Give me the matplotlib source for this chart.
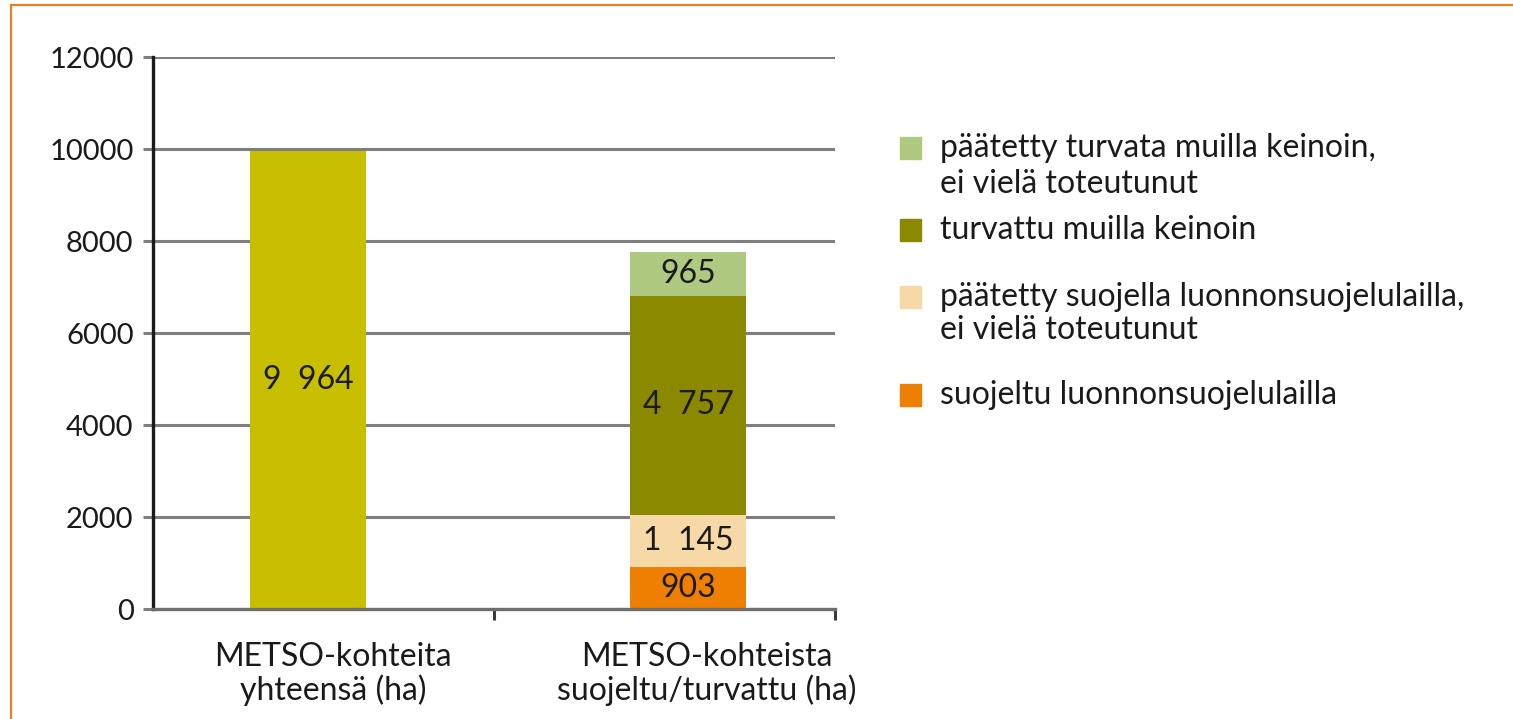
import matplotlib.pyplot as plt
from matplotlib.patches import Rectangle

W, H = 1513, 719
FONT = "Lato"
FS_TICK = 21
FS_TEXT = 23
TEXT_COLOR = "#1a1a1a"

CATEGORIES = ["METSO-kohteita\nyhteensä (ha)", "METSO-kohteista\nsuojeltu/turvattu (ha)"]
TOTAL = 9964
STACK_LABELS = [
    "suojeltu luonnonsuojelulailla",
    "päätetty suojella luonnonsuojelulailla,\nei vielä toteutunut",
    "turvattu muilla keinoin",
    "päätetty turvata muilla keinoin,\nei vielä toteutunut",
]
STACK_VALUES = [903, 1145, 4757, 965]
STACK_COLORS = ["#EE7F00", "#F7D9A8", "#8B8900", "#AFCA80"]
TOTAL_COLOR = "#C8BF00"
Y_TICKS = [0, 2000, 4000, 6000, 8000, 10000, 12000]


def fx(px):
    return px / W


def fy(py):
    return 1 - py / H


def fmt(v):
    # wide gap like the original's thousands separator
    return f"{v:,}".replace(",", "  ")


plt.rcParams["font.family"] = [FONT, "DejaVu Sans"]

fig = plt.figure(figsize=(W / 100, H / 100), dpi=100)
ax = fig.add_axes([fx(153), fy(609), fx(835) - fx(153), fy(57) - fy(609)])

# bars sit a little off the category centres in the original
bar_x = [0, 1]
bar_w = 116 / 380
ax.set_xlim(-155 / 380, 1 + 147 / 380)
ax.set_ylim(0, 12000)

ax.bar(bar_x[0], TOTAL, width=bar_w, color=TOTAL_COLOR, zorder=2)
ax.text(bar_x[0], TOTAL / 2, fmt(TOTAL), ha="center", va="center",
        fontsize=FS_TEXT, color=TEXT_COLOR, zorder=4)

bottom = 0
for val, col in zip(STACK_VALUES, STACK_COLORS):
    ax.bar(bar_x[1], val, width=bar_w, bottom=bottom, color=col, zorder=2)
    ax.text(bar_x[1], bottom + val / 2, fmt(val), ha="center", va="center",
            fontsize=FS_TEXT, color=TEXT_COLOR, zorder=4)
    bottom += val

# axes styling
ax.set_yticks(Y_TICKS)
ax.set_yticklabels([str(t) for t in Y_TICKS], fontsize=FS_TICK, color=TEXT_COLOR)
ax.tick_params(axis="y", length=7, width=2.2, color="#7f7f7f", pad=7)
ax.yaxis.grid(True, color="#7f7f7f", linewidth=2.2, zorder=1)
ax.set_axisbelow(True)
for s in ("top", "right"):
    ax.spines[s].set_visible(False)
ax.spines["left"].set_color("#1a1a1a")
ax.spines["left"].set_linewidth(2.4)
ax.spines["left"].set_zorder(5)
ax.spines["bottom"].set_color("#6e6e6e")
ax.spines["bottom"].set_linewidth(2.4)
ax.spines["bottom"].set_zorder(5)

# category boundary ticks
bounds = [(494 - 308) / 380, 1 + 147 / 380]
ax.set_xticks(bounds)
ax.set_xticklabels(["", ""])
ax.tick_params(axis="x", length=8, width=2.2, color="#3a3a3a")

label_x = [(333 - 308) / 380, (707 - 308) / 380]
label_rows = [657, 690]
for lx, lab in zip(label_x, CATEGORIES):
    for line, py in zip(lab.split("\n"), label_rows):
        fig.text(ax.transData.transform((lx, 0))[0] / W, fy(py), line,
                 ha="center", va="center", fontsize=FS_TEXT, color=TEXT_COLOR)

# legend drawn by hand to keep the uneven spacing
legend_rows = [(3, [148, 184]), (2, [230]), (1, [297, 330]), (0, [395])]
for idx, ys in legend_rows:
    cy = ys[0]
    fig.patches.append(Rectangle((fx(900), fy(cy + 11)), fx(21), fy(0) - fy(22),
                                 transform=fig.transFigure, color=STACK_COLORS[idx]))
    for line, py in zip(STACK_LABELS[idx].split("\n"), ys):
        fig.text(fx(940), fy(py), line, ha="left", va="center",
                 fontsize=FS_TEXT, color=TEXT_COLOR)

# orange frame
fig.patches.append(Rectangle((fx(11), fy(740)), fx(1520) - fx(11), fy(5) - fy(740),
                             transform=fig.transFigure, fill=False,
                             edgecolor="#F08020", linewidth=1.6))

fig.savefig("out.png", dpi=100)
